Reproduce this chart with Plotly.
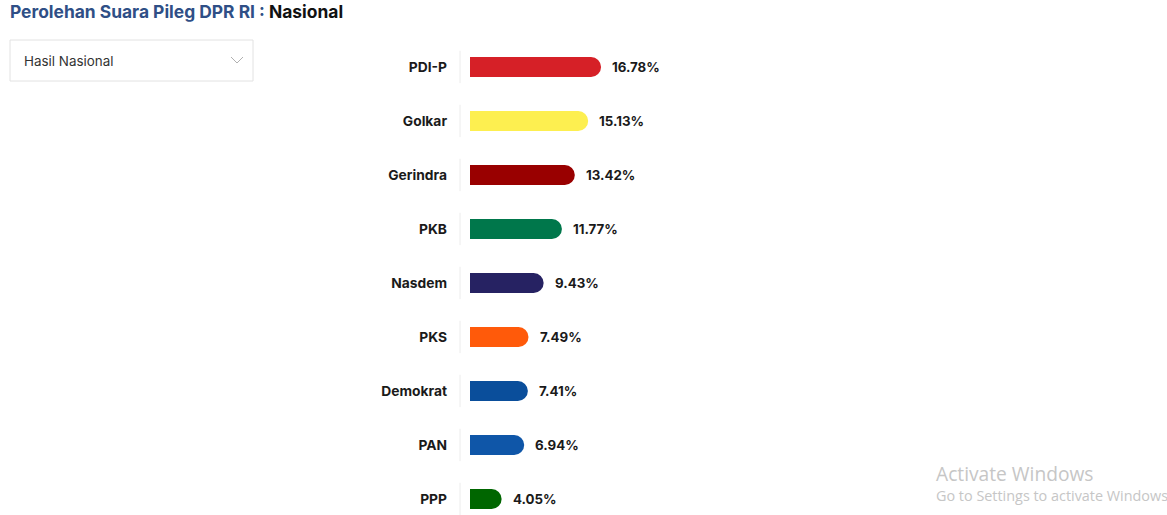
import plotly.graph_objects as go

parties = ["PDI-P", "Golkar", "Gerindra", "PKB", "Nasdem", "PKS", "Demokrat", "PAN", "PPP"]
values = [16.78, 15.13, 13.42, 11.77, 9.43, 7.49, 7.41, 6.94, 4.05]
colors = ["#d62027", "#fdef50", "#990000", "#00774b", "#262262", "#ff5a0a", "#0a4e9b", "#0f56a8", "#006600"]
value_labels = [f"{v:.2f}%" for v in values]

W, H = 1167, 515
L = 470
PW = W - L
PX_PER_UNIT = 7.81
FONT = "Inter"

def px(x):
    return (x - L) / PW

def py(y):
    return 1 - y / H

idx = list(range(len(parties)))
row0, step = 67.0, 54.0
BW = 20 / step

fig = go.Figure()
fig.add_trace(go.Bar(
    y=idx, x=[v / 2 for v in values], orientation="h", width=BW,
    marker=dict(color=colors, line=dict(width=0)),
    hoverinfo="skip", showlegend=False,
))
fig.add_trace(go.Bar(
    y=idx, x=values, orientation="h", width=BW,
    marker=dict(color=colors, cornerradius=10, line=dict(width=0)),
    hoverinfo="skip", showlegend=False,
))

for i, (v, t) in enumerate(zip(values, value_labels)):
    fig.add_annotation(x=v, y=i, xref="x", yref="y", text=f"<b>{t}</b>", showarrow=False,
                       xanchor="left", yanchor="middle", xshift=9,
                       font=dict(family=FONT, size=13.3, color="#1a1a1a"))
    fig.add_shape(type="line", xref="paper", yref="y", x0=px(460), x1=px(460),
                  y0=i - 0.3, y1=i + 0.3, line=dict(color="#ececec", width=1))

# title
fig.add_annotation(xref="paper", yref="paper", x=px(8), y=py(12), xanchor="left", yanchor="middle",
                   showarrow=False,
                   text="<b><span style='color:#2f4f86'>Perolehan Suara Pileg DPR RI : </span>Nasional</b>",
                   font=dict(family=FONT, size=17.4, color="#111111"))
# dropdown
fig.add_shape(type="rect", xref="paper", yref="paper", x0=px(10), x1=px(253), y0=py(81), y1=py(40),
              line=dict(color="#e2e2e2", width=1), fillcolor="white")
fig.add_annotation(xref="paper", yref="paper", x=px(22), y=py(61), xanchor="left", yanchor="middle",
                   showarrow=False, text="Hasil Nasional",
                   font=dict(family=FONT, size=13.4, color="#333333"))
fig.add_shape(type="path", xref="paper", yref="paper",
              path=f"M {px(231)} {py(57)} L {px(237)} {py(63)} L {px(243)} {py(57)}",
              line=dict(color="#b0b0b0", width=1))
# watermark
fig.add_annotation(xref="paper", yref="paper", x=px(934), y=py(473), xanchor="left", yanchor="middle",
                   showarrow=False, text="Activate Windows",
                   font=dict(family="Open Sans", size=19.2, color="#c6c6c6"))
fig.add_annotation(xref="paper", yref="paper", x=px(934), y=py(495), xanchor="left", yanchor="middle",
                   showarrow=False, text="Go to Settings to activate Windows",
                   font=dict(family="Open Sans", size=14.4, color="#c6c6c6"))

y_top = -row0 / step
y_bot = (H - row0) / step
fig.update_layout(
    width=W, height=H, margin=dict(l=L, r=0, t=0, b=0),
    paper_bgcolor="white", plot_bgcolor="white", barmode="overlay",
    xaxis=dict(range=[0, PW / PX_PER_UNIT], visible=False, fixedrange=True),
    yaxis=dict(range=[y_bot, y_top], tickvals=idx, ticktext=[f"<b>{p}</b>" for p in parties],
               showgrid=False, zeroline=False, showline=False, ticks="", ticklabelstandoff=22,
               tickfont=dict(family=FONT, size=13.8, color="#1a1a1a"), fixedrange=True),
)
fig.write_html("out.html")
